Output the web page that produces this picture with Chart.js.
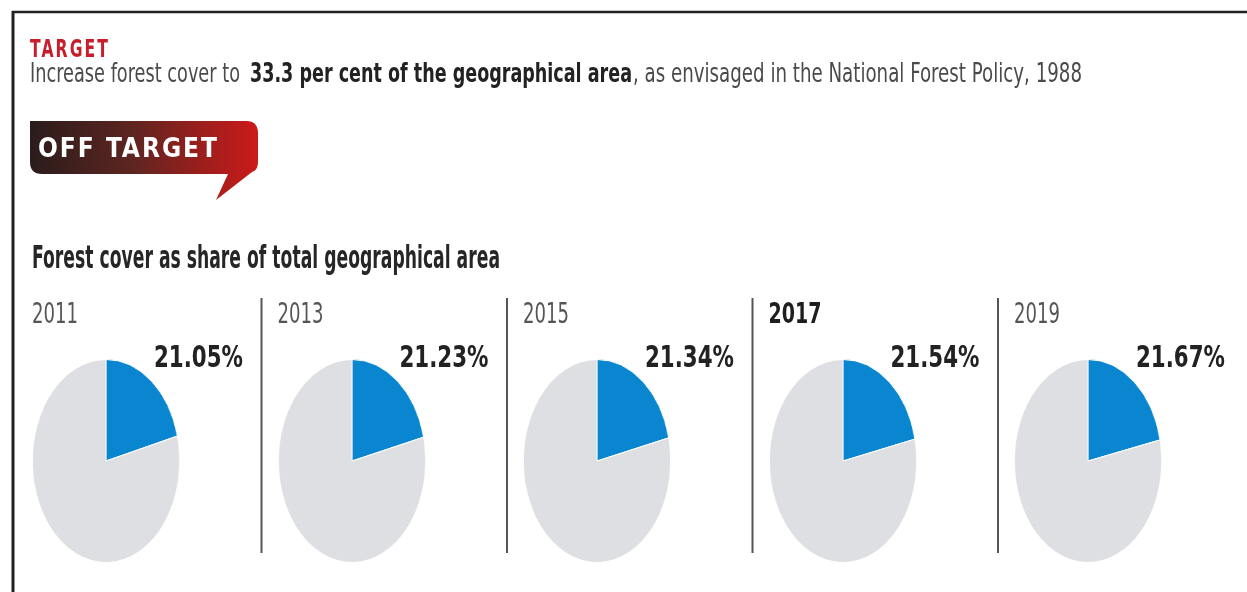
<!DOCTYPE html>
<html>
<head>
<meta charset="utf-8">
<title>Forest cover</title>
<script src="https://cdn.jsdelivr.net/npm/chart.js@4.4.0/dist/chart.umd.min.js"></script>
<style>
    html, body { margin: 0; padding: 0; background: #fff; }
    #page { position: relative; width: 1247px; height: 592px; overflow: hidden; background: #fff; }
    #art { position: absolute; left: 0; top: 0; }
    .pie { position: absolute; width: 204px; height: 204px; transform: scaleX(0.725); transform-origin: 50% 50%; }
    .pie canvas { display: block; }
    text { font-family: 'Liberation Sans Narrow', 'DejaVu Sans Condensed', 'Liberation Sans', Arial, sans-serif; }
</style>
</head>
<body>
<div id="page">
    <svg id="art" width="1247" height="592" xmlns="http://www.w3.org/2000/svg">
        <defs>
            <linearGradient id="badgeGrad" x1="0" y1="0" x2="1" y2="0">
                <stop offset="0" stop-color="#2a1c1b"/>
                <stop offset="0.45" stop-color="#5e2520"/>
                <stop offset="1" stop-color="#cc1a1a"/>
            </linearGradient>
        </defs>
        <!-- frame -->
        <line x1="12" y1="12" x2="1247" y2="12" stroke="#222" stroke-width="2.5"/>
        <line x1="13" y1="11" x2="13" y2="592" stroke="#222" stroke-width="3"/>
        <!-- off target badge -->
        <path d="M30,121 L246,121 Q258,121 258,133 L258,162 Q258,170 252,172 L216,200 L228,174 L42,174 Q30,174 30,162 Z" fill="url(#badgeGrad)"/>
        <g id="texts"></g>
    </svg>
</div>
<script>
// data
const years = ['2011', '2013', '2015', '2017', '2019'];
const forestShare = [21.05, 21.23, 21.34, 21.54, 21.67];
const boldYears = ['2017'];

const targetLabel = 'TARGET';
const targetText = ['Increase forest cover to', '33.3 per cent of the geographical area', ', as envisaged in the National Forest Policy, 1988'];
const badgeLabel = 'OFF TARGET';
const chartTitle = 'Forest cover as share of total geographical area';

const blue = '#0a86d0';
const grey = '#dedfe2';

const svgNS = 'http://www.w3.org/2000/svg';
const textLayer = document.getElementById('texts');

function addText(str, x, y, size, weight, fill, len, anchor, adjust, spacing) {
    const t = document.createElementNS(svgNS, 'text');
    t.setAttribute('x', x);
    t.setAttribute('y', y);
    t.setAttribute('font-size', size);
    t.setAttribute('font-weight', weight);
    t.setAttribute('fill', fill);
    if (spacing) t.setAttribute('letter-spacing', spacing);
    if (len) {
        t.setAttribute('textLength', len);
        t.setAttribute('lengthAdjust', adjust || 'spacingAndGlyphs');
    }
    if (anchor) t.setAttribute('text-anchor', anchor);
    t.textContent = str;
    textLayer.appendChild(t);
    return t;
}

function addLine(x1, y1, x2, y2, color, w) {
    const l = document.createElementNS(svgNS, 'line');
    l.setAttribute('x1', x1);
    l.setAttribute('y1', y1);
    l.setAttribute('x2', x2);
    l.setAttribute('y2', y2);
    l.setAttribute('stroke', color);
    l.setAttribute('stroke-width', w);
    textLayer.appendChild(l);
}

// header
addText(targetLabel, 30, 57, 25, 'bold', '#c81e2c', 80, null, 'spacingAndGlyphs', 3);
addText(targetText[0], 30, 82, 27, 'normal', '#4a4a4a', 210);
addText(targetText[1], 250, 82, 27, 'bold', '#222', 382);
addText(targetText[2], 633, 82, 27, 'normal', '#4a4a4a', 449);
addText(badgeLabel, 38, 157, 26, 'bold', '#fff', 179, null, 'spacing');
addText(chartTitle, 32, 268, 32, 'bold', '#262626', 468);

// panels
const panelStep = 245.5;
years.forEach((yr, i) => {
    const isBold = boldYears.includes(yr);
    addText(yr, 32 + panelStep * i, 323, 29, isBold ? 'bold' : 'normal', isBold ? '#1e1e1e' : '#555', isBold ? 53 : 46);
    addText(forestShare[i].toFixed(2) + '%', 243 + panelStep * i, 367, 31, 'bold', '#222', 89, 'end');
    if (i > 0) {
        addLine(16 + panelStep * i, 298, 16 + panelStep * i, 553, '#555', 2);
    }

    const holder = document.createElement('div');
    holder.className = 'pie';
    holder.style.left = (106 + panelStep * i - 102) + 'px';
    holder.style.top = '359px';
    const canvas = document.createElement('canvas');
    canvas.width = 204;
    canvas.height = 204;
    holder.appendChild(canvas);
    document.getElementById('page').insertBefore(holder, document.getElementById('art'));

    new Chart(canvas, {
        type: 'pie',
        data: {
            labels: ['Forest cover', 'Other'],
            datasets: [{
                data: [forestShare[i], 100 - forestShare[i]],
                backgroundColor: [blue, grey],
                borderColor: '#fff',
                borderWidth: 1
            }]
        },
        options: {
            responsive: false,
            animation: false,
            layout: { padding: 0 },
            plugins: {
                legend: { display: false },
                tooltip: { enabled: false }
            }
        }
    });
});
</script>
</body>
</html>
